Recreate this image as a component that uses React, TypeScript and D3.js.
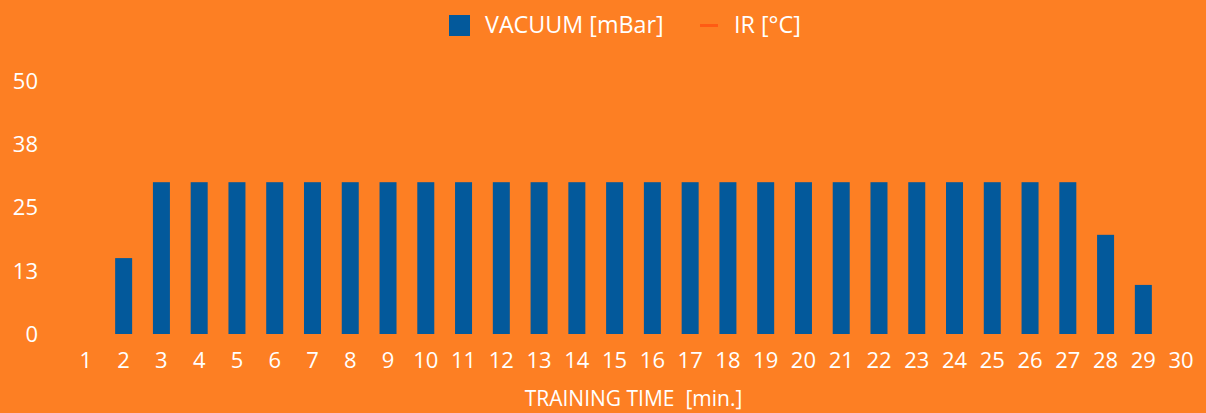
import React from "react";
import * as d3 from "d3";

const categories = d3.range(1, 31).map(String);
const vacuum = [0, 15, 30, 30, 30, 30, 30, 30, 30, 30, 30, 30, 30, 30, 30, 30, 30, 30, 30, 30, 30, 30, 30, 30, 30, 30, 30, 19.6, 9.7, 0];
const yTicks = [0, 12.5, 25, 37.5, 50];
const legendItems = ["VACUUM [mBar]", "IR [°C]"];
const xTitle = "TRAINING TIME  [min.]";

const W = 1206, H = 413;
const BG = "#FD7F23";
const BAR = "#03599B";
const IR = "#FF5B14";
const FONT = "'Open Sans', sans-serif";

export default function App() {
  const x = d3.scaleBand<string>().domain(categories).range([67, 1200]).paddingInner(0.55).paddingOuter(0.275);
  const y = d3.scaleLinear().domain([0, 50]).range([334, 81]);
  return (
    <svg width={W} height={H} style={{ position: "absolute", left: 0, top: 0, display: "block" }} fontFamily={FONT}>
      <rect width={W} height={H} fill={BG} />
      {/* legend */}
      <rect x={449} y={15} width={21} height={21} fill={BAR} />
      <text x={485} y={33} fill="#fff" fontSize={23.3}>{legendItems[0]}</text>
      <line x1={700} x2={718} y1={25.5} y2={25.5} stroke={IR} strokeWidth={3} />
      <text x={734} y={33} fill="#fff" fontSize={23.3}>{legendItems[1]}</text>
      {/* y axis labels */}
      {yTicks.map((t) => (
        <text key={t} x={38} y={y(t)} dy="0.36em" textAnchor="end" fill="#fff" fontSize={22}>
          {d3.format(".0f")(Math.round(t + 0.01))}
        </text>
      ))}
      {/* bars */}
      {categories.map((c, i) => (
        <rect key={c} x={x(c)} y={y(vacuum[i])} width={x.bandwidth()} height={y(0) - y(vacuum[i])} fill={BAR} />
      ))}
      {/* x labels */}
      {categories.map((c) => (
        <text key={c} x={(x(c) as number) + x.bandwidth() / 2} y={368} textAnchor="middle" fill="#fff" fontSize={22}>
          {c}
        </text>
      ))}
      <text x={633.5} y={406} textAnchor="middle" fill="#fff" fontSize={21} style={{ whiteSpace: "pre" }}>{xTitle}</text>
    </svg>
  );
}
